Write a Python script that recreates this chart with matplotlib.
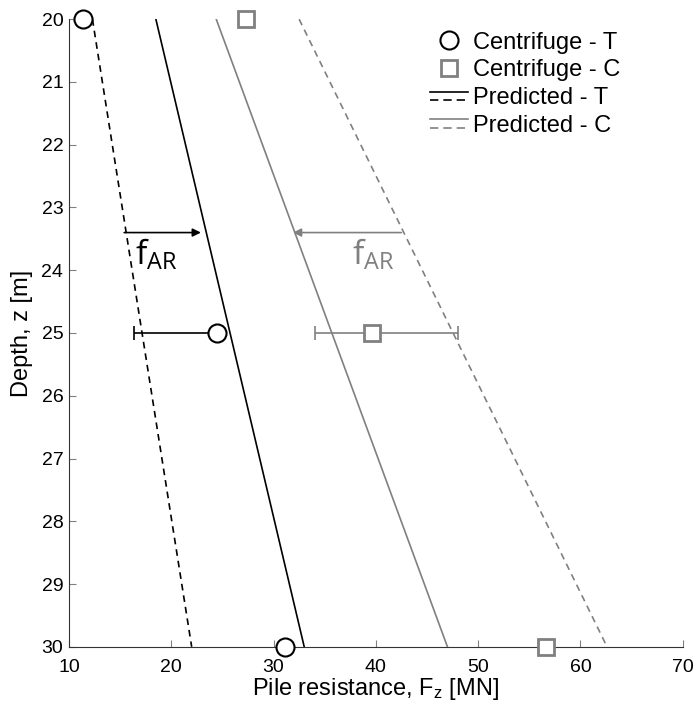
import matplotlib
matplotlib.use('Agg')
import matplotlib.pyplot as plt
from matplotlib.legend_handler import HandlerBase
from matplotlib.lines import Line2D

plt.rcParams['font.family'] = ['Liberation Sans', 'DejaVu Sans']
plt.rcParams['mathtext.fontset'] = 'custom'
plt.rcParams['mathtext.rm'] = 'Liberation Sans'
plt.rcParams['mathtext.it'] = 'Liberation Sans'

GREY = '#808080'

# centrifuge test points
depth_pts = [20, 25, 30]
cent_T = [11.4, 24.5, 31.1]
cent_C = [27.3, 39.6, 56.6]

# error bars at 25 m (lower / upper x)
err_depth = 25
err_T = [16.4, 24.5]
err_C = [34.1, 48.0]

# predicted lines
pred_depth = [20, 30]
pred_T = [18.5, 33.0]
pred_T_dash = [12.3, 22.0]
pred_C = [24.4, 47.0]
pred_C_dash = [32.5, 62.6]

# f_AR arrows
arrow_depth = 23.4
arrow_T = [15.4, 22.9]
arrow_C = [42.5, 31.9]

x_ticks = [10, 20, 30, 40, 50, 60, 70]
y_ticks = list(range(20, 31))


class StackedLines(HandlerBase):
    # solid line on top, dashed line underneath
    def create_artists(self, legend, orig_handle, xdescent, ydescent,
                       width, height, fontsize, trans):
        solid, dashed = orig_handle
        x0, x1 = -xdescent, -xdescent + width
        y_top = 0.75 * height - ydescent
        y_bot = 0.25 * height - ydescent
        l1 = Line2D([x0, x1], [y_top, y_top], color=solid.get_color(),
                    lw=solid.get_linewidth(), transform=trans)
        l2 = Line2D([x0, x1], [y_bot, y_bot], color=dashed.get_color(),
                    lw=dashed.get_linewidth(), linestyle=(0, (5, 3)),
                    transform=trans)
        return [l1, l2]


fig = plt.figure(figsize=(6.96, 7.10), dpi=100)
ax = fig.add_axes([0.099, 0.089, 0.882, 0.884])

dash = (0, (4, 3))
sT, = ax.plot(pred_T, pred_depth, color='black', lw=1.2)
dT, = ax.plot(pred_T_dash, pred_depth, color='black', lw=1.2, linestyle=dash)
sC, = ax.plot(pred_C, pred_depth, color=GREY, lw=1.2)
dC, = ax.plot(pred_C_dash, pred_depth, color=GREY, lw=1.2, linestyle=dash)

# error bars
ax.errorbar([cent_T[1]], [err_depth], xerr=[[cent_T[1] - err_T[0]], [err_T[1] - cent_T[1]]],
            fmt='none', ecolor='black', elinewidth=1.2, capsize=5, capthick=1.2)
ax.errorbar([cent_C[1]], [err_depth], xerr=[[cent_C[1] - err_C[0]], [err_C[1] - cent_C[1]]],
            fmt='none', ecolor=GREY, elinewidth=1.2, capsize=5, capthick=1.2)

mT, = ax.plot(cent_T, depth_pts, 'o', ms=13, mfc='white', mec='black', mew=1.5,
              linestyle='none', clip_on=False, zorder=5)
mC, = ax.plot(cent_C, depth_pts, 's', ms=11, mfc='white', mec=GREY, mew=2,
              linestyle='none', clip_on=False, zorder=5)

# f_AR arrows and labels
ax.annotate('', xy=(arrow_T[1], arrow_depth), xytext=(arrow_T[0], arrow_depth),
            arrowprops=dict(arrowstyle='-|>', color='black', lw=1.2,
                            mutation_scale=12, shrinkA=0, shrinkB=0))
ax.annotate('', xy=(arrow_C[1], arrow_depth), xytext=(arrow_C[0], arrow_depth),
            arrowprops=dict(arrowstyle='-|>', color=GREY, lw=1.2,
                            mutation_scale=12, shrinkA=0, shrinkB=0))
ax.text(18.5, 23.75, r'f$_{\mathregular{AR}}$', fontsize=24, color='black',
        ha='center', va='center', family='Open Sans')
ax.text(39.7, 23.75, r'f$_{\mathregular{AR}}$', fontsize=24, color=GREY,
        ha='center', va='center', family='Open Sans')

ax.set_xlim(10, 70)
ax.set_ylim(30, 20)
ax.set_xticks(x_ticks)
ax.set_yticks(y_ticks)
ax.tick_params(direction='in', length=5, labelsize=14, color=GREY)
ax.tick_params(axis='x', pad=9)
ax.tick_params(axis='y', pad=4)
for side in ['top', 'right']:
    ax.spines[side].set_visible(False)
for side in ['left', 'bottom']:
    ax.spines[side].set_color('#333333')
ax.set_xlabel('Pile resistance, F$_z$ [MN]', fontsize=17, labelpad=0)
ax.set_ylabel('Depth, z [m]', fontsize=17, labelpad=6)

ax.legend([mT, mC, (sT, dT), (sC, dC)],
          ['Centrifuge - T', 'Centrifuge - C', 'Predicted - T', 'Predicted - C'],
          handler_map={tuple: StackedLines()}, frameon=False, fontsize=17,
          loc='upper left', bbox_to_anchor=(0.573, 0.995), borderaxespad=0,
          handlelength=1.6, handletextpad=0.21, labelspacing=0.24)

fig.savefig('out.png', dpi=100)
